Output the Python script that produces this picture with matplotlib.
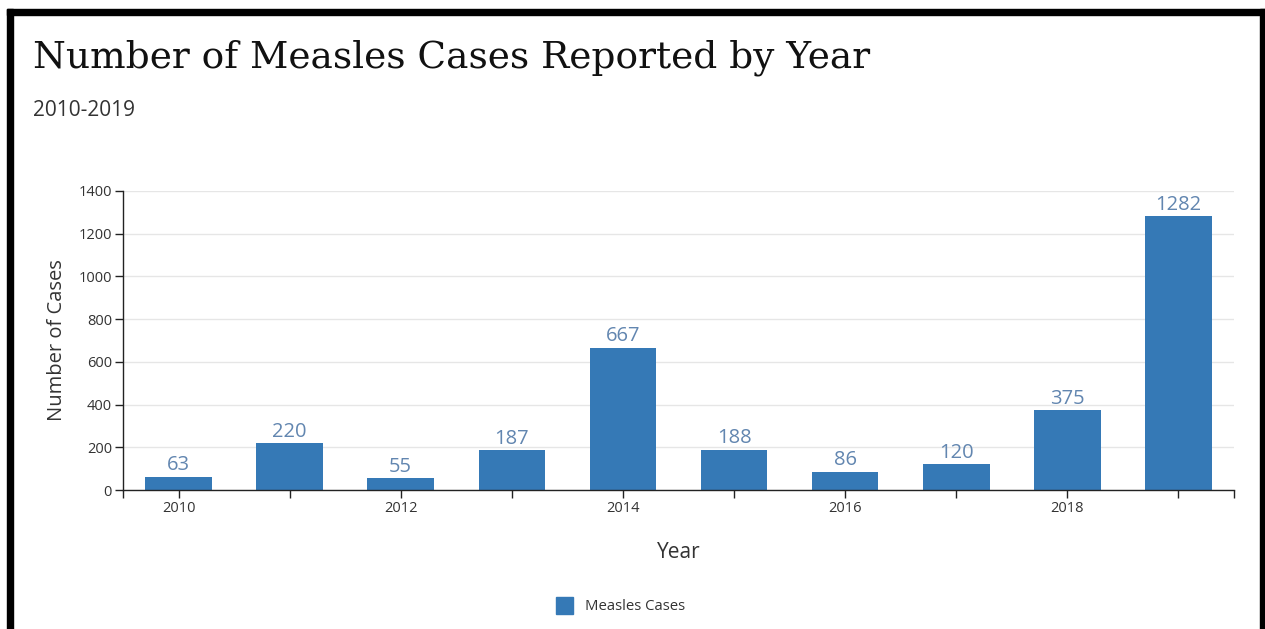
import matplotlib
matplotlib.use('Agg')
import matplotlib.pyplot as plt
from matplotlib.patches import Rectangle
import numpy as np

# data
years = [2010, 2011, 2012, 2013, 2014, 2015, 2016, 2017, 2018, 2019]
cases = [63, 220, 55, 187, 667, 188, 86, 120, 375, 1282]
y_ticks = [0, 200, 400, 600, 800, 1000, 1200, 1400]
x_labeled = [2010, 2012, 2014, 2016, 2018]

bar_color = '#3579b6'
label_color = '#6286b0'
text_color = '#333333'

W, H = 1265, 629
fig = plt.figure(figsize=(W/100, H/100), dpi=100)
fig.patch.set_facecolor('white')

ax = fig.add_axes([123/W, 1-490/H, (1234-123)/W, (490-191)/H])
ax.bar(years, cases, width=0.6, color=bar_color, zorder=2)
for x, v in zip(years, cases):
    ax.annotate(str(v), (x, v), xytext=(0, 1), textcoords='offset points',
                ha='center', va='bottom', fontsize=14.5, color=label_color,
                family='Open Sans')

ax.set_xlim(2009.5, 2019.5)
ax.set_ylim(0, 1400)

# ticks at every year plus the two ends of the domain
xt = [2009.5] + years + [2019.5]
ax.set_xticks(xt)
ax.set_xticklabels([str(t) if t in x_labeled else '' for t in xt])
ax.set_yticks(y_ticks)
ax.set_yticklabels([str(t) for t in y_ticks])
ax.tick_params(axis='both', length=6, width=1, color='#222222',
               labelsize=10.5, labelcolor=text_color, pad=2)
for lab in ax.get_xticklabels() + ax.get_yticklabels():
    lab.set_family('Open Sans')

ax.grid(axis='y', color='#e6e6e6', linewidth=1, zorder=0)
ax.set_axisbelow(True)
for s in ['top', 'right']:
    ax.spines[s].set_visible(False)
for s in ['left', 'bottom']:
    ax.spines[s].set_color('#222222')
    ax.spines[s].set_linewidth(1)

fig.text(57/W, 1-340/H, 'Number of Cases', rotation=90, ha='center', va='center',
         fontsize=14.5, color=text_color, family='Open Sans')
fig.text(679/W, 1-552/H, 'Year', ha='center', va='center',
         fontsize=15, color=text_color, family='Open Sans')

# title + subtitle
fig.text(33/W, 1-68/H, 'Number of Measles Cases Reported by Year', ha='left',
         va='baseline', fontsize=27, color='#111111', family='DejaVu Serif')
fig.text(33/W, 1-116/H, '2010-2019', ha='left', va='baseline',
         fontsize=15, color=text_color, family='Open Sans')

# legend
fig.add_artist(Rectangle((556/W, 1-614/H), 17/W, 17/H, transform=fig.transFigure,
                         color=bar_color))
fig.text(585/W, 1-607/H, 'Measles Cases', ha='left', va='center',
         fontsize=10.75, color=text_color, family='Open Sans')

# black frame
fig.add_artist(Rectangle((7/W, 0), 6/W, 1-9/H, transform=fig.transFigure, color='black'))
fig.add_artist(Rectangle((7/W, 1-15/H), (1265-7)/W, 6/H, transform=fig.transFigure, color='black'))
fig.add_artist(Rectangle((1260/W, 0), 5/W, 1-9/H, transform=fig.transFigure, color='black'))

fig.savefig('out.png', dpi=100)
